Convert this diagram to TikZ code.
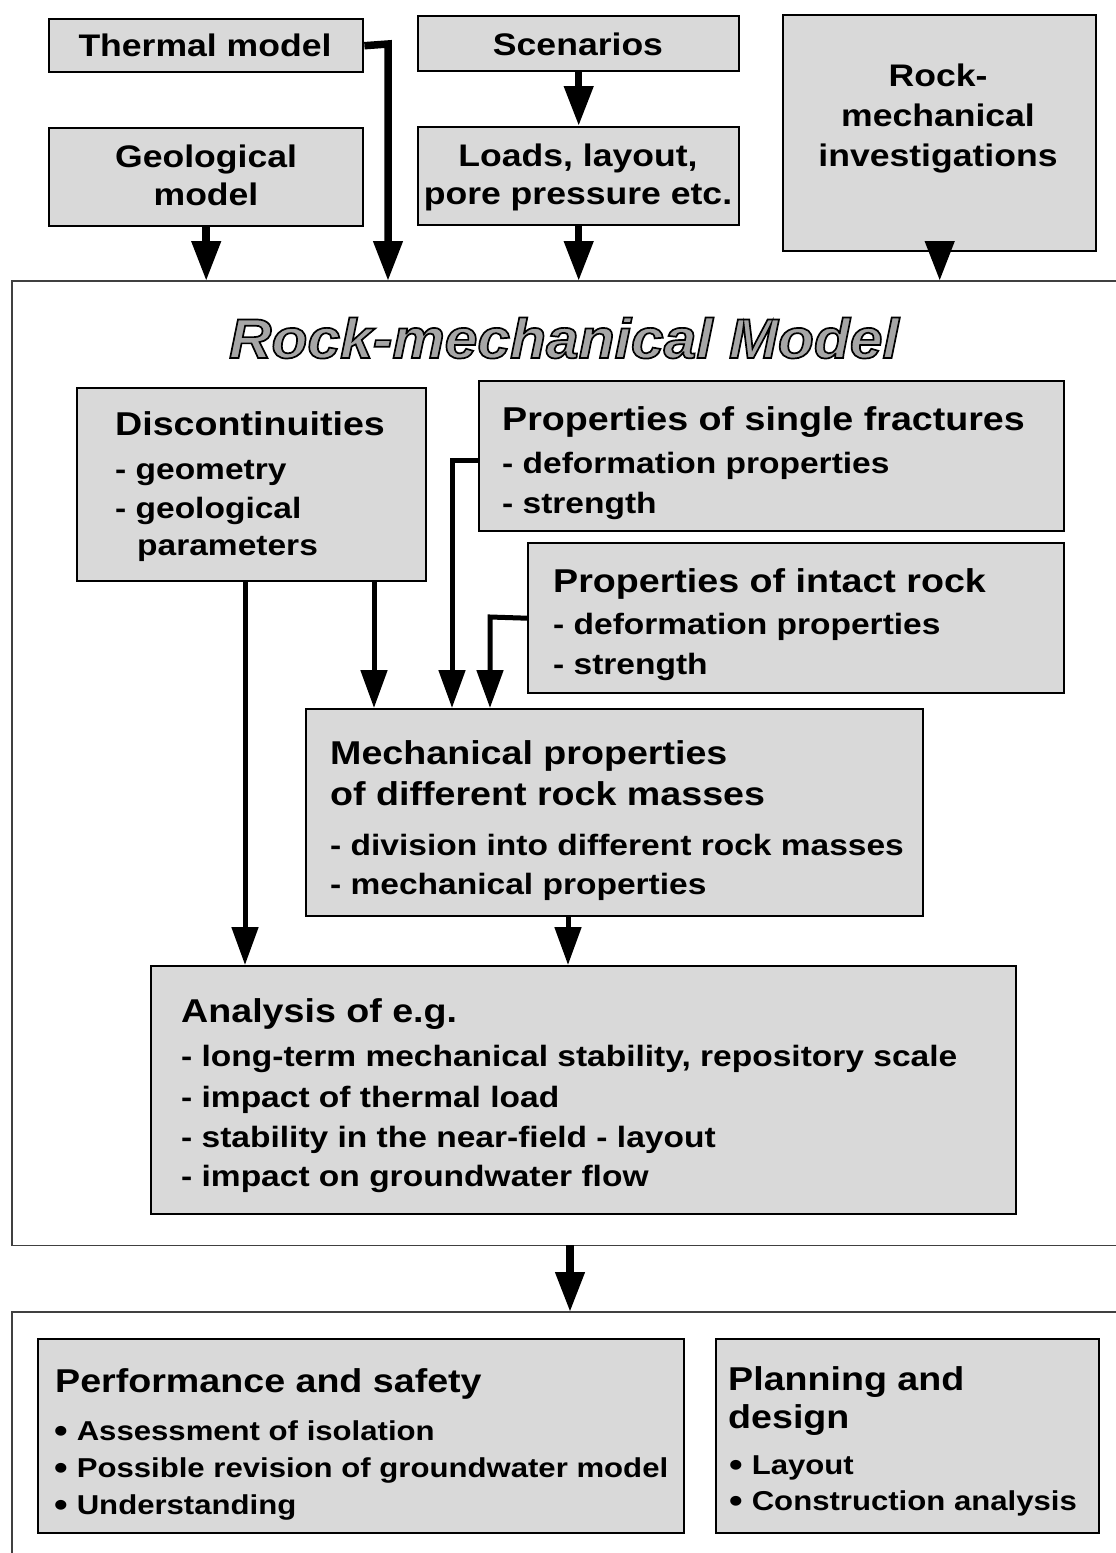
\documentclass[tikz,border=0pt]{standalone}
\usepackage{fontspec}
\setmainfont{Liberation Sans}[FakeStretch=1.14]
\newfontfamily\titlefont{Liberation Sans}[FakeStretch=1.05]
\usetikzlibrary{arrows.meta}
\definecolor{boxgray}{HTML}{D9D9D9}
\definecolor{titlegray}{HTML}{A6A6A6}
% outlined, grey-filled lettering for the model title
\newcommand{\outlined}[1]{{\color{titlegray}\special{pdf:literal 2 Tr 1.7 w 0 G}#1\special{pdf:literal 0 Tr}}}
% large round bullet for the item lists
\newcommand{\blt}{\smash{\raisebox{-0.1em}{\fontsize{34}{34}\selectfont •}}\hspace{9pt}}
\begin{document}
\begin{tikzpicture}[x=1pt,y=-1pt,
  box/.style={draw=black,line width=2.4pt,fill=boxgray,inner sep=0pt,anchor=north west},
  area/.style={inner sep=0pt,anchor=north west},
  framel/.style={draw=black!75,line width=1.6pt},
  arr/.style={line width=7.5pt,-{Triangle[length=40pt,width=28pt]}},
  arrs/.style={line width=5pt,-{Triangle[length=38pt,width=26pt]}},
  top/.style={font=\fontsize{31.2}{38}\selectfont\bfseries,anchor=base,inner sep=0pt},
  head/.style={font=\fontsize{33}{39}\selectfont\bfseries,anchor=base west,inner sep=0pt},
  sub/.style={font=\fontsize{29.4}{35}\selectfont\bfseries,anchor=base west,inner sep=0pt},
  item/.style={font=\fontsize{27.3}{33}\selectfont\bfseries,anchor=base west,inner sep=0pt}]
\useasboundingbox (0,0) rectangle (1116,1553);
\fill[white] (0,0) rectangle (1116,1553);

% upper input boxes
\node[box,minimum width=314pt,minimum height=53pt] (thermal) at (48,18) {};
\node[box,minimum width=321pt,minimum height=55pt] (scen) at (417,15) {};
\node[box,minimum width=313pt,minimum height=236pt] (rmi) at (782,14) {};
\node[box,minimum width=314pt,minimum height=98pt] (geo) at (48,127) {};
\node[box,minimum width=321pt,minimum height=98pt] (loads) at (417,126) {};

\node[top] (tthermal) at (205,56) {Thermal model};
\node[top] (tscen) at (578,55) {Scenarios};
\node[top] (tgeo1) at (206,167) {Geological};
\node[top] (tgeo2) at (206,205) {model};
\node[top] (tloads1) at (578,166) {Loads, layout,};
\node[top] (tloads2) at (578,204) {pore pressure etc.};
\node[top] (trmi1) at (938,86) {Rock-};
\node[top] (trmi2) at (938,126) {mechanical};
\node[top] (trmi3) at (938,166) {investigations};

% model frame (open to the right)
\node[area,minimum width=1110pt,minimum height=964pt] (frame) at (12,281) {};
\draw[framel] (frame.north east) -- (frame.north west) -- (frame.south west) -- (frame.south east);
\node[font=\fontsize{56}{60}\selectfont\titlefont\bfseries\itshape,anchor=base,inner sep=0pt] (title) at (564,358) {\outlined{Rock-mechanical Model}};

% boxes inside the model
\node[box,minimum width=349pt,minimum height=193pt] (disc) at (76,387) {};
\node[box,minimum width=585pt,minimum height=150pt] (sfr) at (478,380) {};
\node[box,minimum width=536pt,minimum height=150pt] (intact) at (527,542) {};
\node[box,minimum width=617pt,minimum height=207pt] (mech) at (305,708) {};
\node[box,minimum width=865pt,minimum height=248pt] (anal) at (150,965) {};

\node[head] (hdisc) at (115,435) {Discontinuities};
\node[sub] (sdisc1) at (115,479) {- geometry};
\node[sub] (sdisc2) at (115,518) {- geological};
\node[sub] (sdisc3) at (137,555) {parameters};

\node[head] (hsfr) at (502,430) {Properties of single fractures};
\node[sub] (ssfr1) at (502,473) {- deformation properties};
\node[sub] (ssfr2) at (502,513) {- strength};

\node[head] (hint) at (553,592) {Properties of intact rock};
\node[sub] (sint1) at (553,634) {- deformation properties};
\node[sub] (sint2) at (553,674) {- strength};

\node[head] (hmech1) at (330,764) {Mechanical properties};
\node[head] (hmech2) at (330,805) {of different rock masses};
\node[sub] (smech1) at (330,855) {- division into different rock masses};
\node[sub] (smech2) at (330,894) {- mechanical properties};

\node[head] (hanal) at (181,1022) {Analysis of e.g.};
\node[sub] (sanal1) at (181,1066) {- long-term mechanical stability, repository scale};
\node[sub] (sanal2) at (181,1107) {- impact of thermal load};
\node[sub] (sanal3) at (181,1147) {- stability in the near-field - layout};
\node[sub] (sanal4) at (181,1186) {- impact on groundwater flow};

% consequences frame (open to the right and below)
\node[area,minimum width=1110pt,minimum height=260pt] (frame2) at (12,1312) {};
\draw[framel] (frame2.north east) -- (frame2.north west) -- (frame2.south west);
\node[box,minimum width=646pt,minimum height=194pt] (perf) at (37,1338) {};
\node[box,minimum width=383pt,minimum height=194pt] (plan) at (715,1338) {};

\node[head] (hperf) at (55,1392) {Performance and safety};
\node[item] (sperf1) at (54,1440) {\blt Assessment of isolation};
\node[item] (sperf2) at (54,1477) {\blt Possible revision of groundwater model};
\node[item] (sperf3) at (54,1514) {\blt Understanding};

\node[head] (hplan1) at (728,1390) {Planning and};
\node[head] (hplan2) at (728,1428) {design};
\node[item] (splan1) at (729,1474) {\blt Layout};
\node[item] (splan2) at (729,1510) {\blt Construction analysis};

% connector bends and drop points
\coordinate (thdrop) at (388,44);
\coordinate (dA) at (245,580);
\coordinate (dB) at (374,580);
\coordinate (fA) at (478,460);
\coordinate (fB) at (452,460);
\coordinate (iB) at (490,617);
\coordinate (mA) at (568,915);
\coordinate (oA) at (570,1245);

% connectors
\draw[arr] (geo.south) -- (geo.south |- frame.north);
\draw[arr] (thermal.east) -- (thdrop) -- (thdrop |- frame.north);
\draw[arr] (scen.south) -- (scen.south |- loads.north);
\draw[arr] (loads.south) -- (loads.south |- frame.north);
\draw[arr] (rmi.south) -- (rmi.south |- frame.north);

\draw[arrs] (dA) -- (dA |- anal.north);
\draw[arrs] (dB) -- (dB |- mech.north);
\draw[arrs] (fA) -- (fB) -- (fB |- mech.north);
\draw[arrs] (intact.west) -- (iB) -- (iB |- mech.north);
\draw[arrs] (mA) -- (mA |- anal.north);
\draw[arr] (oA) -- (oA |- frame2.north);
\end{tikzpicture}
\end{document}
